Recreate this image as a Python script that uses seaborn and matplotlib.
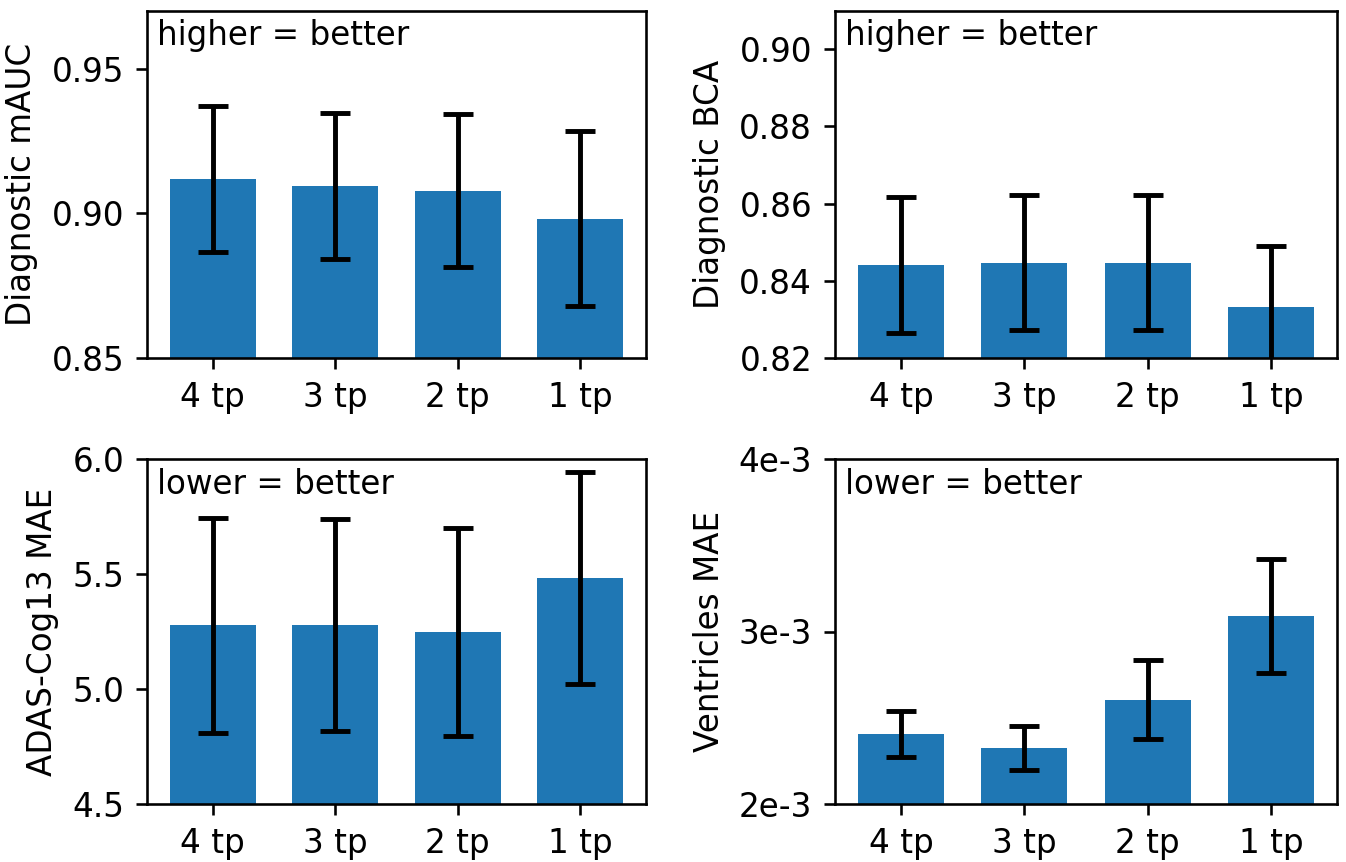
import matplotlib
matplotlib.use("Agg")
import matplotlib.pyplot as plt
import seaborn as sns
import numpy as np

categories = ["4 tp", "3 tp", "2 tp", "1 tp"]

mauc_mean = [0.9118, 0.9094, 0.9078, 0.8981]
mauc_err = [0.0252, 0.0252, 0.0265, 0.0302]

bca_mean = [0.8441, 0.8447, 0.8447, 0.8332]
bca_err = [0.0175, 0.0175, 0.0175, 0.0158]

adas_mean = [5.277, 5.277, 5.248, 5.481]
adas_err = [0.468, 0.460, 0.454, 0.461]

vent_mean = [2.404e-3, 2.323e-3, 2.603e-3, 3.092e-3]
vent_err = [0.134e-3, 0.128e-3, 0.229e-3, 0.331e-3]

DPI = 235
fig = plt.figure(figsize=(1346 / DPI, 862 / DPI), dpi=DPI)

W, H = 1346, 862
def add_ax(l, r, t, b):
    return fig.add_axes([l / W, (H - b) / H, (r - l) / W, (b - t) / H])

axes = [
    add_ax(147, 646, 10.7, 358),
    add_ax(835, 1337, 10.7, 358),
    add_ax(147, 646, 459, 804),
    add_ax(835, 1337, 459, 804),
]

panels = [
    (mauc_mean, mauc_err, "Diagnostic mAUC", (0.85, 0.97), [0.85, 0.90, 0.95], None, "higher = better"),
    (bca_mean, bca_err, "Diagnostic BCA", (0.82, 0.91), [0.82, 0.84, 0.86, 0.88, 0.90], None, "higher = better"),
    (adas_mean, adas_err, "ADAS-Cog13 MAE", (4.5, 6.0), [4.5, 5.0, 5.5, 6.0], None, "lower = better"),
    (vent_mean, vent_err, "Ventricles MAE", (2e-3, 4e-3), [2e-3, 3e-3, 4e-3], ["2e-3", "3e-3", "4e-3"], "lower = better"),
]

for ax, (mean, err, ylabel, ylim, yticks, yticklabels, note) in zip(axes, panels):
    sns.barplot(x=categories, y=mean, width=0.7, color="#1f77b4", saturation=1,
                ax=ax, errorbar=None)
    ax.errorbar(np.arange(len(categories)), mean, yerr=err, fmt="none",
                ecolor="black", elinewidth=1.5, capsize=4.5, capthick=1.5, zorder=5)
    ax.set_ylim(*ylim)
    ax.set_xlim(-0.535, 3.535)
    ax.set_yticks(yticks)
    if yticklabels is not None:
        ax.set_yticklabels(yticklabels)
    ax.set_ylabel(ylabel, fontsize=10)
    ax.set_xlabel("")
    ax.tick_params(labelsize=10)
    for s in ax.spines.values():
        s.set_visible(True)
        s.set_linewidth(0.8)
        s.set_color("black")
    ax.text(0.02, 0.975, note, transform=ax.transAxes, ha="left", va="top", fontsize=10)

fig.savefig("out.png", dpi=DPI)
